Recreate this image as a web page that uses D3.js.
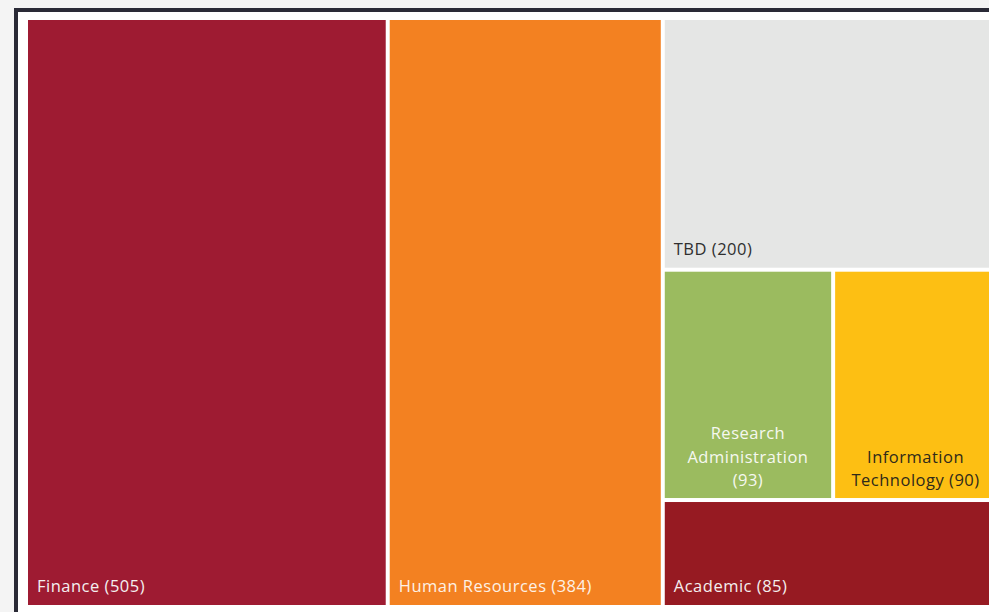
<!DOCTYPE html>
<html>
<head>
<meta charset="utf-8">
<script src="https://cdn.jsdelivr.net/npm/d3@7"></script>
<style>
  html, body { margin: 0; padding: 0; background: #f4f4f4; overflow: hidden; }
  svg { display: block; }
  .lbl { font-family: "Open Sans", "Noto Sans", sans-serif; font-size: 16.5px; letter-spacing: 0.5px; }
</style>
</head>
<body>
<svg id="chart" width="989" height="612"></svg>
<script>
// departments and their counts
let categories = ['Finance', 'Human Resources', 'TBD', 'Research Administration', 'Information Technology', 'Academic'];
let values = [505, 384, 200, 93, 90, 85];
// which block each tile sits in (right column holds a stacked group)
let parents = ['root', 'root', 'right', 'row', 'row', 'right'];
let colors = ['#9e1b32', '#f38121', '#e5e6e5', '#9bbb5f', '#fdbf13', '#961a22'];
let textColors = ['#f4f0f0', '#fdf1e6', '#2f2f2f', '#f6f8f0', '#2f2a1a', '#f4eeee'];

let svg = d3.select('#chart');

// outer frame
svg.append('rect')
  .attr('x', 16).attr('y', 10)
  .attr('width', 1100).attr('height', 700)
  .style('fill', '#ffffff')
  .style('stroke', '#2a2a36')
  .style('stroke-width', 4);

// build nested table: root -> Finance, HR, right(TBD, row(RA, IT), Academic)
let table = [{ id: 'root', parent: null }, { id: 'right', parent: 'root', order: 2 }, { id: 'row', parent: 'right', order: 3 }];
categories.forEach((c, i) => table.push({ id: c, parent: parents[i], value: values[i], idx: i, order: i }));

let root = d3.stratify()
  .id(d => d.id)
  .parentId(d => d.parent)(table)
  .sum(d => d.value || 0)
  .sort((a, b) => a.data.order - b.data.order);

d3.treemap()
  .tile(d3.treemapSliceDice)
  .size([968, 585])
  .paddingInner(4)(root);

let g = svg.append('g').attr('transform', 'translate(28, 20)');

let leaves = g.selectAll('g.leaf')
  .data(root.leaves())
  .join('g')
  .classed('leaf', true)
  .attr('transform', d => `translate(${d.x0}, ${d.y0})`);

leaves.append('rect')
  .attr('width', d => d.x1 - d.x0)
  .attr('height', d => d.y1 - d.y0)
  .style('fill', d => colors[d.data.idx]);

// labels sit at the bottom; wrap and center when they don't fit
leaves.each(function (d) {
  let w = d.x1 - d.x0, h = d.y1 - d.y0;
  let i = d.data.idx;
  let full = categories[i] + ' (' + values[i] + ')';
  let t = d3.select(this).append('text')
    .attr('class', 'lbl')
    .style('fill', textColors[i]);
  t.text(full);
  if (t.node().getComputedTextLength() <= w - 20) {
    t.attr('x', 9).attr('y', h - 13);
    return;
  }
  // word wrap
  t.text(null);
  let words = full.split(' ');
  let lines = [], cur = '';
  let probe = d3.select(this).append('text').attr('class', 'lbl');
  words.forEach(wd => {
    let test = cur ? cur + ' ' + wd : wd;
    probe.text(test);
    if (probe.node().getComputedTextLength() > w - 20 && cur) {
      lines.push(cur);
      cur = wd;
    } else {
      cur = test;
    }
  });
  lines.push(cur);
  probe.remove();
  t.attr('text-anchor', 'middle');
  lines.forEach((ln, k) => {
    t.append('tspan')
      .attr('x', w / 2)
      .attr('y', h - 12 - (lines.length - 1 - k) * 23.5)
      .text(ln);
  });
});
</script>
</body>
</html>
